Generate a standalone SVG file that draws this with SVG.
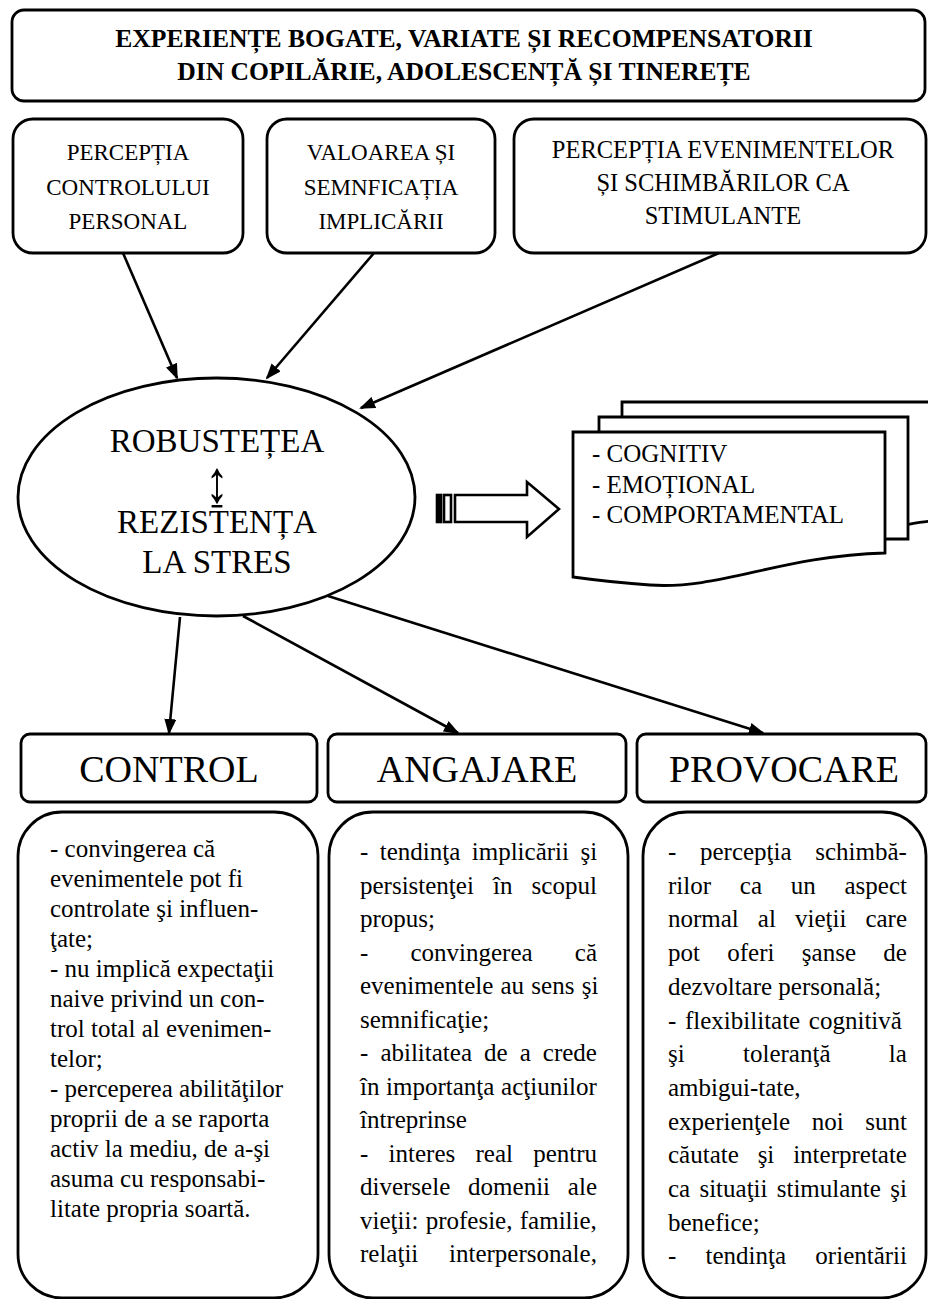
<svg xmlns="http://www.w3.org/2000/svg" width="928" height="1299" viewBox="0 0 928 1299" font-family="'Liberation Serif', Tinos, 'Times New Roman', 'DejaVu Serif', serif">
  <defs>
    <style>
      .box { fill: #fff; stroke: #000; stroke-width: 2.8; }
      .conn { fill: none; stroke: #000; stroke-width: 2.6; marker-end: url(#ah); }
      text { fill: #000; }
      .title { font-size: 25.6px; font-weight: bold; text-anchor: middle; }
      .lbl { font-size: 23px; text-anchor: middle; }
      .lbl-wide { font-size: 24.5px; text-anchor: middle; }
      .core { font-size: 33px; text-anchor: middle; }
      .head { font-size: 38px; text-anchor: middle; }
      .body { font-size: 25px; }
      .dims { font-size: 25px; }
    </style>
    <marker id="ah" viewBox="0 0 16 12" refX="14" refY="6" markerWidth="16" markerHeight="12" orient="auto" markerUnits="userSpaceOnUse">
      <path d="M0,0 L16,6 L0,12 Z" fill="#000"/>
    </marker>
  </defs>

  <rect width="928" height="1299" fill="#fff"/>

  <!-- title banner -->
  <g id="n-experiente">
    <rect class="box" x="12" y="10" width="913" height="91" rx="12"/>
    <text class="title" x="464" y="47">EXPERIENȚE BOGATE, VARIATE ȘI RECOMPENSATORII</text>
    <text class="title" x="464" y="80">DIN COPILĂRIE, ADOLESCENȚĂ ȘI TINEREȚE</text>
  </g>

  <!-- three perception boxes -->
  <g id="n-control-personal">
    <rect class="box" x="13" y="119" width="230" height="134" rx="20"/>
    <text class="lbl" x="128" y="160">PERCEPȚIA</text>
    <text class="lbl" x="128" y="195">CONTROLULUI</text>
    <text class="lbl" x="128" y="229">PERSONAL</text>
  </g>
  <g id="n-valoarea">
    <rect class="box" x="267" y="119" width="228" height="134" rx="20"/>
    <text class="lbl" x="381" y="160">VALOAREA ȘI</text>
    <text class="lbl" x="381" y="195">SEMNFICAȚIA</text>
    <text class="lbl" x="381" y="229">IMPLICĂRII</text>
  </g>
  <g id="n-evenimente">
    <rect class="box" x="514" y="119" width="412" height="134" rx="20"/>
    <text class="lbl-wide" x="723" y="158">PERCEPȚIA EVENIMENTELOR</text>
    <text class="lbl-wide" x="723" y="191">ȘI SCHIMBĂRILOR CA</text>
    <text class="lbl-wide" x="723" y="224">STIMULANTE</text>
  </g>

  <!-- central ellipse -->
  <g id="n-robustetea">
    <ellipse class="box" cx="216.5" cy="497" rx="198.5" ry="119"/>
    <text class="core" x="217" y="452">ROBUSTEȚEA</text>
    <text class="core" transform="translate(217,502) scale(1,1.3)" x="0" y="0" style="font-size:46px">↨</text>
    <text class="core" x="217" y="533">REZISTENȚA</text>
    <text class="core" x="217" y="573">LA STRES</text>
  </g>

  <!-- striped block arrow toward the document stack -->
  <g id="n-block-arrow" fill="#fff" stroke="#000" stroke-width="2.6">
    <rect x="437" y="495" width="4" height="27" fill="#000"/>
    <rect x="444" y="495" width="7" height="27"/>
    <path d="M455,495 H527 V482 L559,509 L527,537 V522 H455 Z"/>
  </g>

  <!-- stacked documents: cognitive / emotional / behavioural -->
  <g id="n-niveluri">
    <path class="box" d="M622,402 H935 V521 C925,521 916,523 905,525 L622,525 Z"/>
    <path class="box" d="M599,417 H908 V539 H599 Z"/>
    <path class="box" d="M573,432 H885 V553 C780,556 720,590 650,585 C620,583 595,580 573,577 Z"/>
    <text class="dims" x="592" y="462">- COGNITIV</text>
    <text class="dims" x="592" y="493">- EMOȚIONAL</text>
    <text class="dims" x="592" y="523">- COMPORTAMENTAL</text>
  </g>

  <!-- dimension headers -->
  <g id="n-control">
    <rect class="box" x="21" y="734" width="296" height="68" rx="9"/>
    <text class="head" x="169" y="782">CONTROL</text>
  </g>
  <g id="n-angajare">
    <rect class="box" x="328" y="734" width="298" height="68" rx="9"/>
    <text class="head" x="477" y="782">ANGAJARE</text>
  </g>
  <g id="n-provocare">
    <rect class="box" x="637" y="734" width="289" height="68" rx="9"/>
    <text class="head" x="784" y="782">PROVOCARE</text>
  </g>

  <!-- description panels -->
  <g id="n-control-desc">
    <rect class="box" x="18" y="812" width="300" height="486" rx="44"/>
    <g class="body">
      <text x="50" y="857">- convingerea că</text>
      <text x="50" y="887">evenimentele pot fi</text>
      <text x="50" y="917">controlate şi influen-</text>
      <text x="50" y="947">ţate;</text>
      <text x="50" y="977">- nu implică expectaţii</text>
      <text x="50" y="1007">naive privind un con-</text>
      <text x="50" y="1037">trol total al evenimen-</text>
      <text x="50" y="1067">telor;</text>
      <text x="50" y="1097">- perceperea abilităţilor</text>
      <text x="50" y="1127">proprii de a se raporta</text>
      <text x="50" y="1157">activ la mediu, de a-şi</text>
      <text x="50" y="1187">asuma cu responsabi-</text>
      <text x="50" y="1217">litate propria soartă.</text>
    </g>
  </g>

  <g id="n-angajare-desc">
    <rect class="box" x="329" y="812" width="299" height="486" rx="44"/>
    <g class="body">
      <text x="360" y="860" style="word-spacing:5.2px">- tendinţa implicării şi</text>
      <text x="360" y="893.5" style="word-spacing:12.9px">persistenţei în scopul</text>
      <text x="360" y="927">propus;</text>
      <text x="360" y="960.5" style="word-spacing:35.9px">- convingerea că</text>
      <text x="360" y="994" style="word-spacing:1px">evenimentele au sens şi</text>
      <text x="360" y="1027.5">semnificaţie;</text>
      <text x="360" y="1061" style="word-spacing:5.8px">- abilitatea de a crede</text>
      <text x="360" y="1094.5" style="word-spacing:0.4px">în importanţa acţiunilor</text>
      <text x="360" y="1128">întreprinse</text>
      <text x="360" y="1161.5" style="word-spacing:14px">- interes real pentru</text>
      <text x="360" y="1195" style="word-spacing:11.6px">diversele domenii ale</text>
      <text x="360" y="1228.5" style="word-spacing:1.1px">vieţii: profesie, familie,</text>
      <text x="360" y="1262" style="word-spacing:24.5px">relaţii interpersonale,</text>
    </g>
  </g>

  <g id="n-provocare-desc">
    <rect class="box" x="643" y="812" width="283" height="486" rx="44"/>
    <g class="body">
      <text x="668" y="860" style="word-spacing:17.4px">- percepţia schimbă-</text>
      <text x="668" y="893.7" style="word-spacing:22.5px">rilor ca un aspect</text>
      <text x="668" y="927.4" style="word-spacing:12.8px">normal al vieţii care</text>
      <text x="668" y="961.1" style="word-spacing:21.1px">pot oferi şanse de</text>
      <text x="668" y="994.8">dezvoltare personală;</text>
      <text x="668" y="1028.5" style="word-spacing:2.4px">- flexibilitate cognitivă</text>
      <text x="668" y="1062.2" style="word-spacing:52.1px">şi toleranţă la</text>
      <text x="668" y="1095.9">ambigui-tate,</text>
      <text x="668" y="1129.6" style="word-spacing:15.3px">experienţele noi sunt</text>
      <text x="668" y="1163.3" style="word-spacing:12.6px">căutate şi interpretate</text>
      <text x="668" y="1197" style="word-spacing:3px">ca situaţii stimulante şi</text>
      <text x="668" y="1230.7">benefice;</text>
      <text x="668" y="1264.4" style="word-spacing:23px">- tendinţa orientării</text>
    </g>
  </g>

  <!-- connectors -->
  <g id="connectors">
    <line class="conn" x1="123" y1="253" x2="177" y2="378"/>
    <line class="conn" x1="374" y1="253" x2="267" y2="378"/>
    <line class="conn" x1="719" y1="253" x2="361" y2="408"/>
    <line class="conn" x1="180" y1="617" x2="169" y2="733"/>
    <line class="conn" x1="243" y1="616" x2="458" y2="733"/>
    <line class="conn" x1="328" y1="596" x2="763" y2="733"/>
  </g>
</svg>
